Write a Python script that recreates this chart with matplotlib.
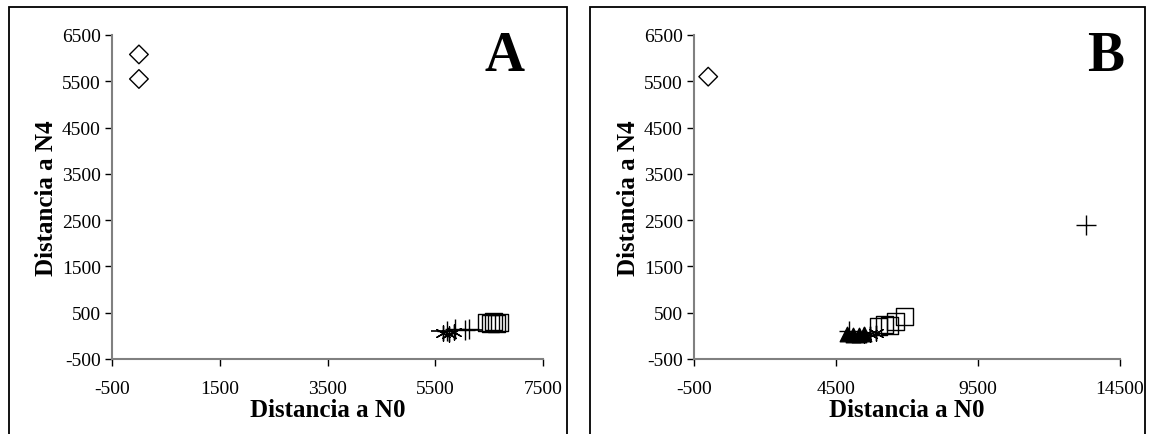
import matplotlib
matplotlib.use("Agg")
import matplotlib.pyplot as plt
from matplotlib.patches import Rectangle

plt.rcParams['font.family'] = ['Liberation Serif', 'DejaVu Serif']

# ---- data ----
yticks = [-500, 500, 1500, 2500, 3500, 4500, 5500, 6500]
xticks_a = [-500, 1500, 3500, 5500, 7500]
xticks_b = [-500, 4500, 9500, 14500]

a_diam_x = [0, 0]
a_diam_y = [6080, 5550]
a_sq_x = [6450, 6520, 6580, 6640, 6700]
a_sq_y = [280, 260, 300, 270, 290]
a_plus_x = [5720, 5870, 6050, 6130]
a_plus_y = [110, 150, 120, 140]
a_ast_x = [5650, 5750, 5850]
a_ast_y = [60, 40, 80]
a_dash_x = [5600, 5900, 6200]
a_dash_y = [100, 120, 130]

b_diam_x = [0]
b_diam_y = [5600]
b_plus_x = [13300, 4960]
b_plus_y = [2400, 100]
b_tri_x = [4900, 5100, 5300, 5500]
b_tri_y = [30, 20, 10, 40]
b_ast_x = [5500, 5700, 5900]
b_ast_y = [20, 50, 60]
b_sq_x = [6000, 6200, 6400, 6600, 6900]
b_sq_y = [200, 250, 230, 300, 420]

W, H = 1151, 435
fig = plt.figure(figsize=(W/100, H/100), dpi=100)

# outer frames
for (x0, x1) in [(9, 567), (590, 1145)]:
    fig.patches.append(Rectangle((x0/W, -0.05), (x1-x0)/W, (H-8)/H + 0.05,
                                 transform=fig.transFigure, fill=False,
                                 edgecolor='black', linewidth=1.3))

def style(ax, xt, xlim, letter, lx):
    ax.set_xlim(xlim)
    ax.set_ylim(-500, 6500)
    ax.set_xticks(xt)
    ax.set_yticks(yticks)
    ax.set_xticklabels([str(v) for v in xt])
    ax.set_yticklabels([str(v) for v in yticks])
    for s in ['top', 'right']:
        ax.spines[s].set_visible(False)
    for s in ['left', 'bottom']:
        ax.spines[s].set_color('#808080')
        ax.spines[s].set_linewidth(1.5)
    ax.tick_params(direction='out', length=5, width=1, color='black',
                   labelsize=14)
    ax.tick_params(axis='x', pad=10)
    ax.tick_params(axis='y', pad=3)
    ax.set_xlabel('Distancia a N0', fontsize=18, fontweight='bold', labelpad=1)
    ax.set_ylabel('Distancia a N4', fontsize=18, fontweight='bold', labelpad=3)
    ax.text(lx, 0.935, letter, transform=ax.transAxes, fontsize=40,
            fontweight='bold', ha='center', va='center')
    ax.patch.set_alpha(0)

axA = fig.add_axes([112/W, 1-360/H, (543-112)/W, (360-36)/H])
axA.scatter(a_sq_x, a_sq_y, marker='s', s=150, facecolors='none', edgecolors='black', linewidths=1.0, clip_on=False)
axA.scatter(a_diam_x, a_diam_y, marker='D', s=90, facecolors='none', edgecolors='black', linewidths=1.0, clip_on=False)
axA.scatter(a_plus_x, a_plus_y, marker='+', s=200, color='black', linewidths=1.0)
axA.scatter(a_ast_x, a_ast_y, marker=(6, 2, 0), s=120, color='black', linewidths=1.0)
axA.scatter(a_dash_x, a_dash_y, marker='_', s=200, color='black', linewidths=1.2)
style(axA, xticks_a, (-500, 7500), 'A', 0.91)

axB = fig.add_axes([694/W, 1-360/H, (1120-694)/W, (360-36)/H])
axB.scatter(b_sq_x, b_sq_y, marker='s', s=150, facecolors='none', edgecolors='black', linewidths=1.0)
axB.scatter(b_diam_x, b_diam_y, marker='D', s=90, facecolors='none', edgecolors='black', linewidths=1.0)
axB.scatter(b_plus_x, b_plus_y, marker='+', s=200, color='black', linewidths=1.0)
axB.scatter(b_tri_x, b_tri_y, marker='^', s=110, color='black')
axB.scatter(b_ast_x, b_ast_y, marker=(6, 2, 0), s=120, color='black', linewidths=1.0)
style(axB, xticks_b, (-500, 14500), 'B', 0.965)

fig.savefig('out.png', dpi=100)
